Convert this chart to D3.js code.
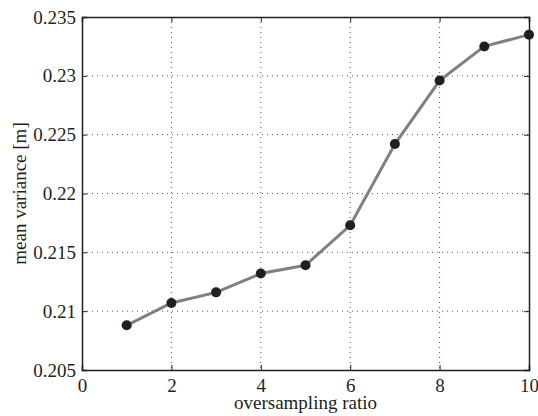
<!DOCTYPE html>
<html>
<head>
<meta charset="utf-8">
<script src="https://cdn.jsdelivr.net/npm/d3@7.9.0/dist/d3.min.js"></script>
<style>
  html, body { margin: 0; padding: 0; background: #fff; }
  svg { display: block; }
  text { font-family: "Liberation Serif", "Times New Roman", serif; fill: #231f20; }
</style>
</head>
<body>
<svg id="chart" width="538" height="416"></svg>
<script>
// oversampling ratio vs mean variance
const ratios = [1, 2, 3, 4, 5, 6, 7, 8, 9, 10];
const variance = [0.2088, 0.2107, 0.2116, 0.2132, 0.2139, 0.2173, 0.2242, 0.2296, 0.2325, 0.2335];
const xTicks = [0, 2, 4, 6, 8, 10];
const yTicks = [0.205, 0.21, 0.215, 0.22, 0.225, 0.23, 0.235];

const margin = { top: 17, right: 9, bottom: 46, left: 82 };
const width = 538 - margin.left - margin.right;
const height = 416 - margin.top - margin.bottom;
const serif = '"Liberation Serif", "Times New Roman", serif';

const svg = d3.select('#chart');
const g = svg.append('g').attr('transform', `translate(${margin.left},${margin.top})`);

const x = d3.scaleLinear().domain([0, 10]).range([0, width]);
const y = d3.scaleLinear().domain([0.205, 0.235]).range([height, 0]);

// grid
g.append('g').selectAll('line').data(xTicks.slice(1, -1)).join('line')
  .attr('x1', d => x(d)).attr('x2', d => x(d))
  .attr('y1', 0).attr('y2', height)
  .attr('stroke', '#555').attr('stroke-width', 1)
  .attr('stroke-dasharray', '1,4');
g.append('g').selectAll('line').data(yTicks.slice(1, -1)).join('line')
  .attr('y1', d => y(d)).attr('y2', d => y(d))
  .attr('x1', 0).attr('x2', width)
  .attr('stroke', '#555').attr('stroke-width', 1)
  .attr('stroke-dasharray', '1,4');

// axes (inside ticks on all sides)
const fmt = d => d3.format('')(+d.toFixed(3));
const axB = g.append('g').attr('transform', `translate(0,${height})`)
  .call(d3.axisBottom(x).tickValues(xTicks).tickSize(-5).tickPadding(9).tickFormat(d3.format('d')));
const axT = g.append('g')
  .call(d3.axisTop(x).tickValues(xTicks).tickSize(-5).tickFormat(''));
const axL = g.append('g')
  .call(d3.axisLeft(y).tickValues(yTicks).tickSize(-5).tickPadding(6).tickFormat(fmt));
const axR = g.append('g').attr('transform', `translate(${width},0)`)
  .call(d3.axisRight(y).tickValues(yTicks).tickSize(-5).tickFormat(''));

[axB, axT, axL, axR].forEach(a => {
  a.attr('font-family', null).attr('font-size', null);
  a.select('.domain').attr('stroke', '#231f20').attr('stroke-width', 1.5);
  a.selectAll('.tick line').attr('stroke', '#231f20').attr('stroke-width', 1);
  a.selectAll('.tick text').attr('fill', '#231f20')
    .style('font-family', serif).style('font-size', '19px');
});

// line + markers
const line = d3.line().x((d, i) => x(ratios[i])).y(d => y(d));
g.append('path').datum(variance)
  .attr('d', line).attr('fill', 'none')
  .attr('stroke', '#808080').attr('stroke-width', 3);
g.append('g').selectAll('circle').data(variance).join('circle')
  .attr('cx', (d, i) => x(ratios[i])).attr('cy', d => y(d))
  .attr('r', 5).attr('fill', '#231f20');

// labels
svg.append('text')
  .attr('x', margin.left + width / 2).attr('y', 409)
  .attr('text-anchor', 'middle')
  .style('font-family', serif).style('font-size', '19px')
  .text('oversampling ratio');
svg.append('text')
  .attr('transform', `translate(26,${margin.top + height / 2}) rotate(-90)`)
  .attr('text-anchor', 'middle')
  .style('font-family', serif).style('font-size', '19px')
  .text('mean variance [m]');
</script>
</body>
</html>
